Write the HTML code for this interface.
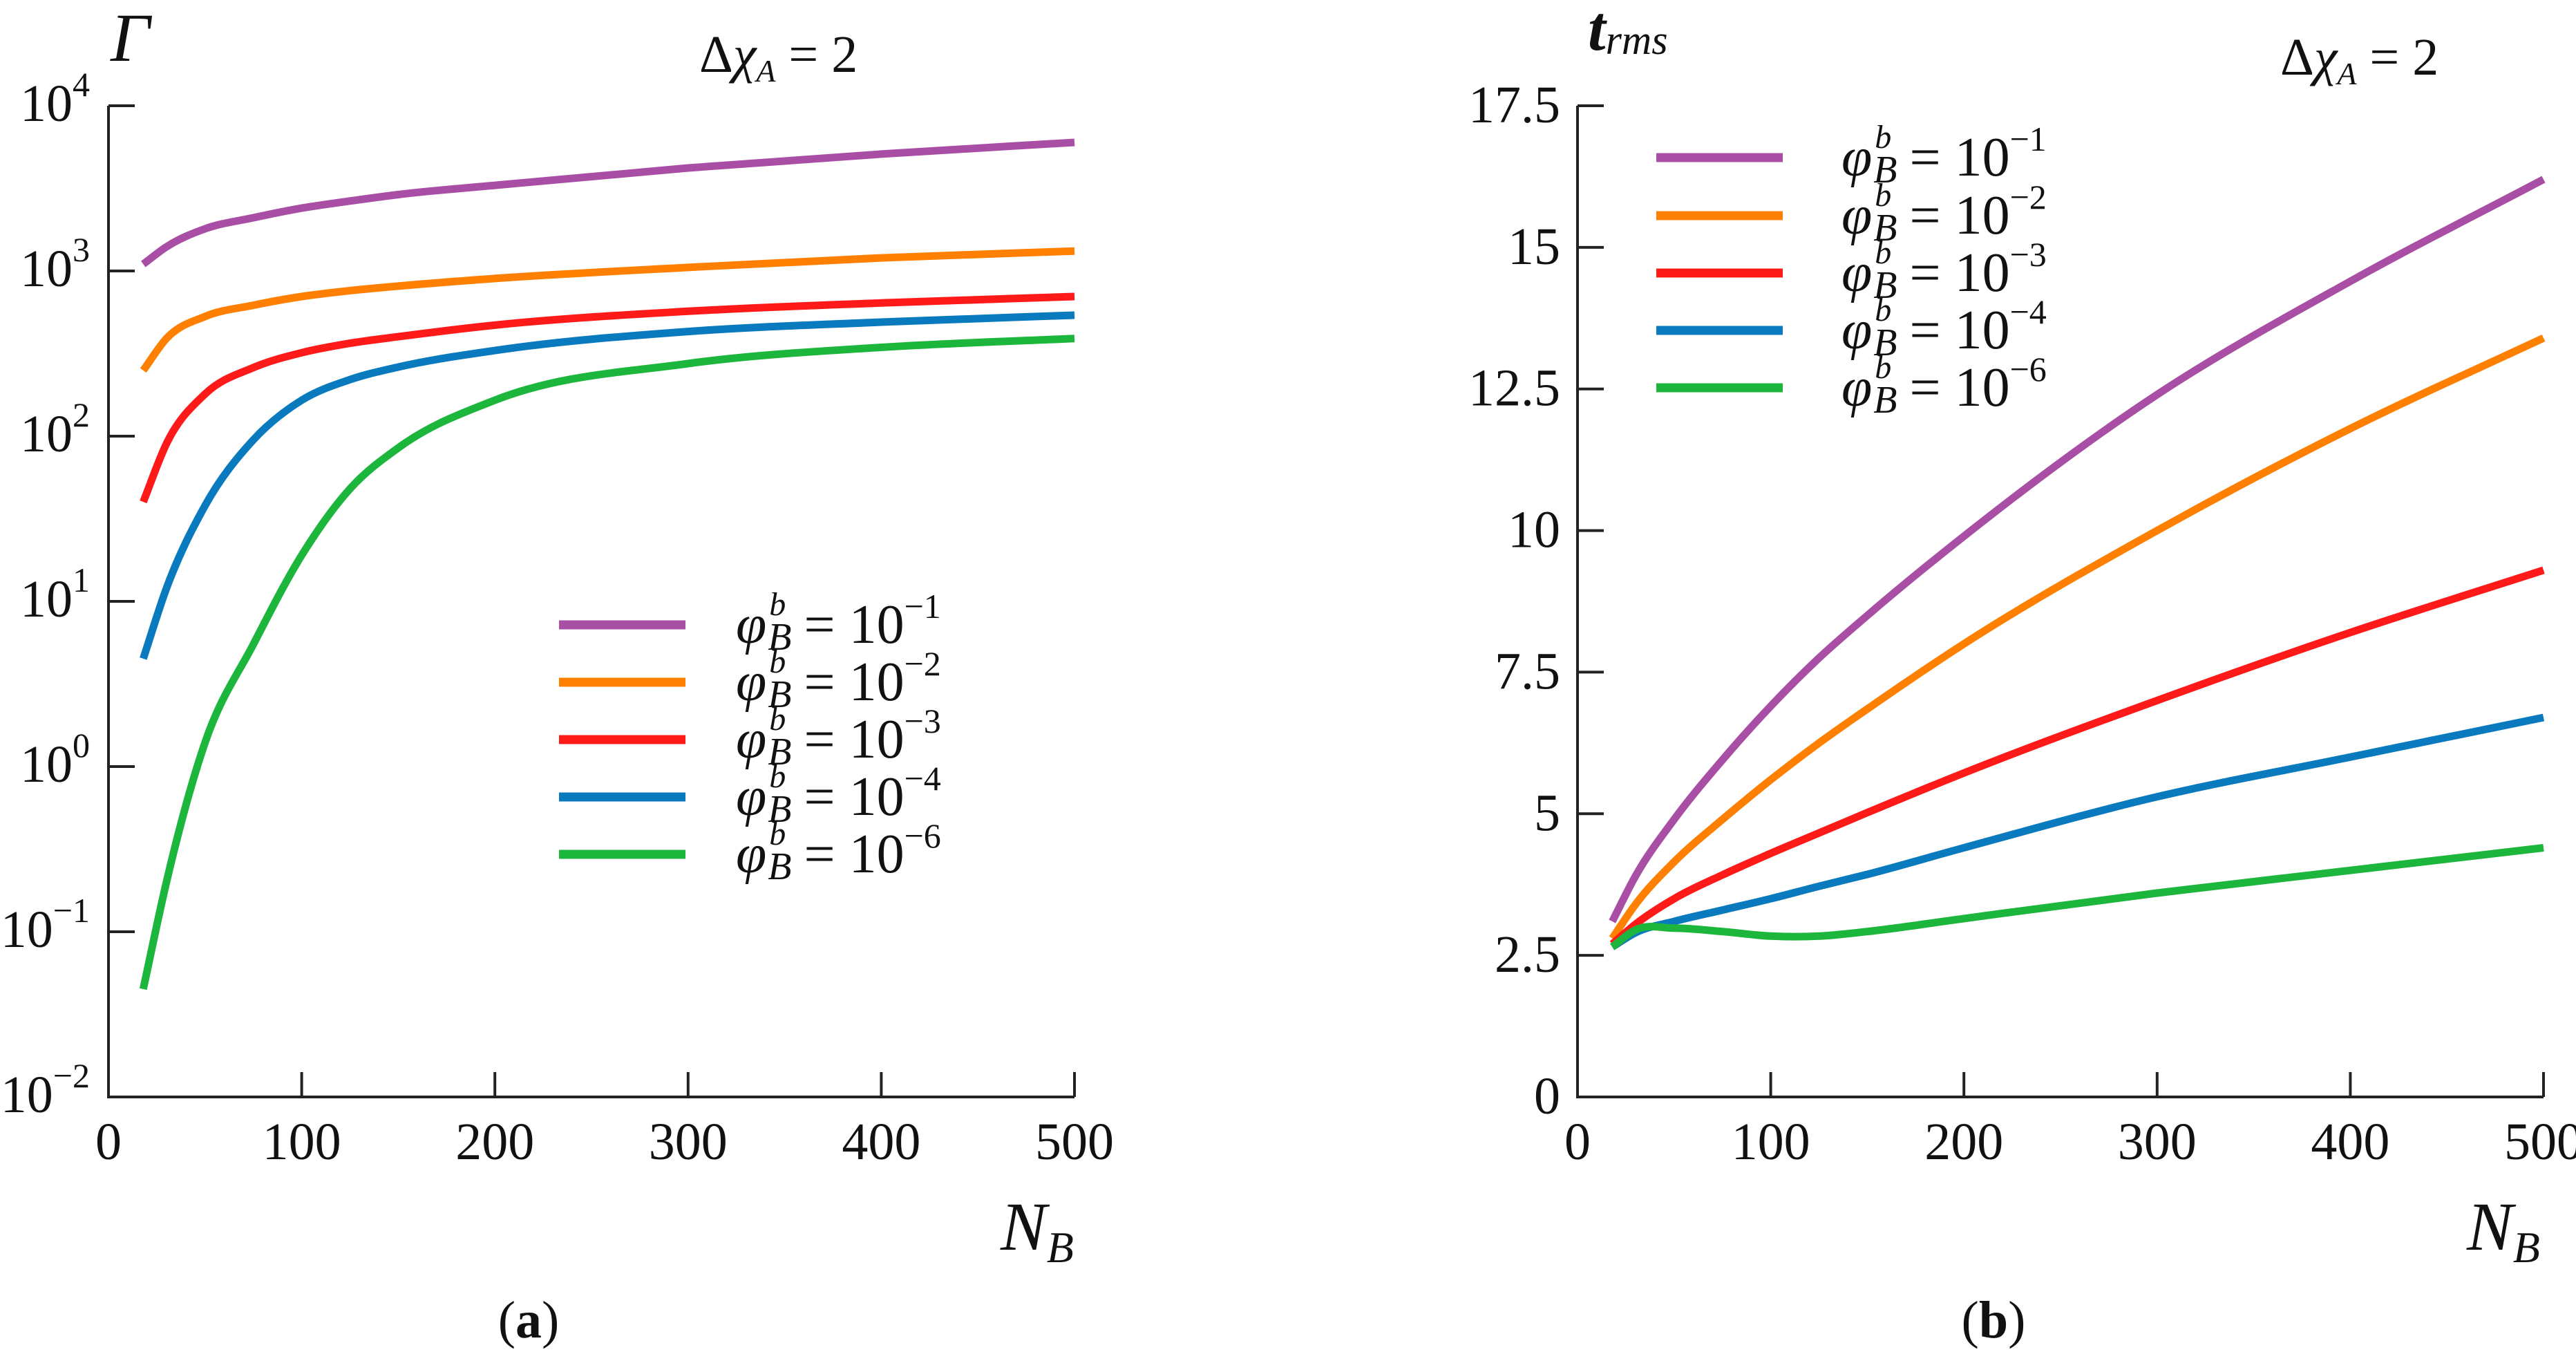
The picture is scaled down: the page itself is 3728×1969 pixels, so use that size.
<!DOCTYPE html>
<html><head><meta charset="utf-8"><style>
html,body{margin:0;padding:0;background:#fff;}
svg{display:block;}
svg text{font-family:"Liberation Serif","DejaVu Serif","Times New Roman",serif;}
</style></head><body>
<svg id="fig" width="3728" height="1969" viewBox="0 0 3728 1969" xmlns="http://www.w3.org/2000/svg">
<g id="pa"></g>
<g id="pb"></g>
</svg>
<script>
const xs = [18, 30, 50, 75, 100, 125, 150, 200, 300, 400, 500];
const seriesNames = ["phi-1e-1","phi-1e-2","phi-1e-3","phi-1e-4","phi-1e-6"];
const seriesExp = ["\u22121","\u22122","\u22123","\u22124","\u22126"];
const colors = ["#a94ea5","#ff7f00","#ff1a1a","#0a7abf","#1db63c"];
const gamma1 = [1100, 1400, 1800, 2100, 2400, 2650, 2900, 3300, 4200, 5100, 6000];
const gamma2 = [250, 390, 530, 620, 700, 760, 810, 900, 1050, 1200, 1320];
const gamma3 = [40, 90, 180, 260, 320, 365, 400, 470, 570, 640, 700];
const gamma4 = [4.5, 12, 38, 95, 165, 220, 262, 330, 430, 490, 540];
const gamma6 = [0.045, 0.2, 1.4, 5.5, 19, 48, 85, 165, 275, 345, 390];
const trms1 = [3.1, 3.9, 4.9, 5.95, 6.9, 7.75, 8.5, 9.9, 12.4, 14.4, 16.2];
const trms2 = [2.8, 3.4, 4.15, 4.9, 5.6, 6.25, 6.85, 8.0, 10.0, 11.8, 13.4];
const trms3 = [2.7, 3.05, 3.5, 3.92, 4.3, 4.66, 5.02, 5.72, 7.0, 8.2, 9.3];
const trms4 = [2.65, 2.9, 3.1, 3.3, 3.5, 3.72, 3.93, 4.4, 5.3, 6.0, 6.7];
const trms6 = [2.65, 2.95, 2.98, 2.92, 2.84, 2.84, 2.92, 3.15, 3.6, 4.0, 4.4];
const xTicks = [0, 100, 200, 300, 400, 500];
const logTicks = [4, 3, 2, 1, 0, -1, -2];
const linTicks = ["0","2.5","5","7.5","10","12.5","15","17.5"];

const NS = "http://www.w3.org/2000/svg";
const FONT = '"Liberation Serif", "DejaVu Serif", "Times New Roman", serif';
function el(parent, tag, attrs, text){
  const e = document.createElementNS(NS, tag);
  for (const k in attrs) e.setAttribute(k, attrs[k]);
  if (tag === "text") e.setAttribute("font-family", FONT);
  if (text !== undefined) e.textContent = text;
  parent.appendChild(e);
  return e;
}
const Y0 = 1587, Y1 = 153;
function makeX(x0){ return v => x0 + (v/500)*1398; }
const yLog = v => Y0 - (Math.log10(v) + 2) / 6 * (Y0 - Y1);
const yLin = v => Y0 - v / 17.5 * (Y0 - Y1);

function smoothPath(pts){
  const n = pts.length;
  const m = [];
  for (let i = 0; i < n; i++){
    if (i === 0) m.push((pts[1][1]-pts[0][1])/(pts[1][0]-pts[0][0]));
    else if (i === n-1) m.push((pts[n-1][1]-pts[n-2][1])/(pts[n-1][0]-pts[n-2][0]));
    else {
      const s0 = (pts[i][1]-pts[i-1][1])/(pts[i][0]-pts[i-1][0]);
      const s1 = (pts[i+1][1]-pts[i][1])/(pts[i+1][0]-pts[i][0]);
      const h0 = pts[i][0]-pts[i-1][0], h1 = pts[i+1][0]-pts[i][0];
      m.push((s0*h1 + s1*h0)/(h0+h1));
    }
  }
  let d = "M" + pts[0][0].toFixed(1) + "," + pts[0][1].toFixed(1);
  for (let i = 0; i < n-1; i++){
    const h = pts[i+1][0]-pts[i][0];
    const c1 = [pts[i][0]+h/3, pts[i][1]+m[i]*h/3];
    const c2 = [pts[i+1][0]-h/3, pts[i+1][1]-m[i+1]*h/3];
    d += " C"+c1[0].toFixed(1)+","+c1[1].toFixed(1)+" "+c2[0].toFixed(1)+","+c2[1].toFixed(1)+" "+pts[i+1][0].toFixed(1)+","+pts[i+1][1].toFixed(1);
  }
  return d;
}

function axes(g, x0, xf){
  let a = el(g, "path", {d:`M${x0},${Y1} L${x0},${Y0} L${x0+1398},${Y0}`, fill:"none", stroke:"#222", "stroke-width":4});
  
  
  xTicks.forEach(t => {
    const x = xf(t);
    if (t > 0) {
      const tk = el(g, "line", {x1:x, y1:Y0, x2:x, y2:Y0-36, stroke:"#222", "stroke-width":4});
      
      
    }
    const lb = el(g, "text", {x:x, y:1677, "font-size":76, "text-anchor":"middle", fill:"#111"}, String(t));
    
    
  });
}

function legendEntry(g, lx, tx, y, color, exp){
  const ln = el(g, "line", {x1:lx, y1:y, x2:lx+183, y2:y, stroke:color, "stroke-width":13});
  
  
  const t = el(g, "text", {x:tx, y:y+26, "font-size":80, fill:"#111"});
  
  
  el(t, "tspan", {"font-style":"italic"}, "\u03c6");
  el(t, "tspan", {"font-style":"italic", "font-size":48, dx:4, dy:-40}, "b");
  el(t, "tspan", {"font-style":"italic", "font-size":56, dx:-26, dy:50}, "B");
  el(t, "tspan", {dx:18, dy:-10}, "= 10");
  el(t, "tspan", {"font-size":50, dy:-36}, exp);
}

function deltaLabel(g, x, y){
  const t = el(g, "text", {x:x, y:y, "font-size":76, fill:"#111"});
  
  
  el(t, "tspan", {}, "\u0394");
  el(t, "tspan", {"font-style":"italic"}, "\u03c7");
  el(t, "tspan", {"font-style":"italic", "font-size":46, dy:14}, "A");
  el(t, "tspan", {dy:-14}, " = 2");
}

function nbLabel(g, x){
  const t = el(g, "text", {x:x, y:1808, "font-size":100, "font-style":"italic", fill:"#111"});
  
  
  el(t, "tspan", {}, "N");
  el(t, "tspan", {"font-size":64, dy:18}, "B");
}

// Panel A
(function(){
  const g = document.getElementById("pa");
  const x0 = 157, xf = makeX(x0);
  axes(g, x0, xf);
  logTicks.forEach(k => {
    const y = Y0 - (k + 2) / 6 * (Y0 - Y1);
    const tk = el(g, "line", {x1:x0, y1:y, x2:x0+38, y2:y, stroke:"#222", "stroke-width":4});
    
    
    const t = el(g, "text", {x:130, y:y+22, "font-size":76, "text-anchor":"end", fill:"#111"});
    
    
    el(t, "tspan", {}, "10");
    el(t, "tspan", {"font-size":50, dy:-36}, k < 0 ? "\u2212" + (-k) : String(k));
  });
  const data = [gamma1, gamma2, gamma3, gamma4, gamma6];
  data.forEach((s, i) => {
    const pts = xs.map((v, j) => [xf(v), yLog(s[j])]);
    const p = el(g, "path", {d:smoothPath(pts), fill:"none", stroke:colors[i], "stroke-width":11, "stroke-linejoin":"round"});
    
    
  });
  const yt = el(g, "text", {x:160, y:88, "font-size":100, "font-style":"italic", fill:"#111"}, "\u0393");
  
  
  deltaLabel(g, 1012, 104);
  [904, 987, 1070, 1153, 1236].forEach((y, i) => legendEntry(g, 809, 1065, y, colors[i], seriesExp[i]));
  nbLabel(g, 1448);
  const cap = el(g, "text", {x:765, y:1935, "font-size":76, "text-anchor":"middle", fill:"#111"});
  
  
  el(cap, "tspan", {}, "(");
  el(cap, "tspan", {"font-weight":"bold"}, "a");
  el(cap, "tspan", {}, ")");
})();

// Panel B
(function(){
  const g = document.getElementById("pb");
  const x0 = 2283, xf = makeX(x0);
  axes(g, x0, xf);
  linTicks.forEach((lbl) => {
    const y = yLin(parseFloat(lbl));
    const tk = el(g, "line", {x1:x0, y1:y, x2:x0+38, y2:y, stroke:"#222", "stroke-width":4});
    
    
    const t = el(g, "text", {x:2258, y:y+24, "font-size":76, "text-anchor":"end", fill:"#111"}, lbl);
    
    
  });
  const data = [trms1, trms2, trms3, trms4, trms6];
  data.forEach((s, i) => {
    const pts = xs.map((v, j) => [xf(v), yLin(s[j])]);
    const p = el(g, "path", {d:smoothPath(pts), fill:"none", stroke:colors[i], "stroke-width":11, "stroke-linejoin":"round"});
    
    
  });
  const yt = el(g, "text", {x:2298, y:72, "font-size":92, "font-style":"italic", "font-weight":"bold", fill:"#111"});
  
  
  el(yt, "tspan", {}, "t");
  el(yt, "tspan", {"font-size":60, "font-weight":"normal", dy:6}, "rms");
  deltaLabel(g, 3300, 108);
  [228, 312, 395, 478, 561].forEach((y, i) => legendEntry(g, 2397, 2665, y, colors[i], seriesExp[i]));
  nbLabel(g, 3570);
  const cap = el(g, "text", {x:2885, y:1935, "font-size":76, "text-anchor":"middle", fill:"#111"});
  
  
  el(cap, "tspan", {}, "(");
  el(cap, "tspan", {"font-weight":"bold"}, "b");
  el(cap, "tspan", {}, ")");
})();
</script>
</body></html>
